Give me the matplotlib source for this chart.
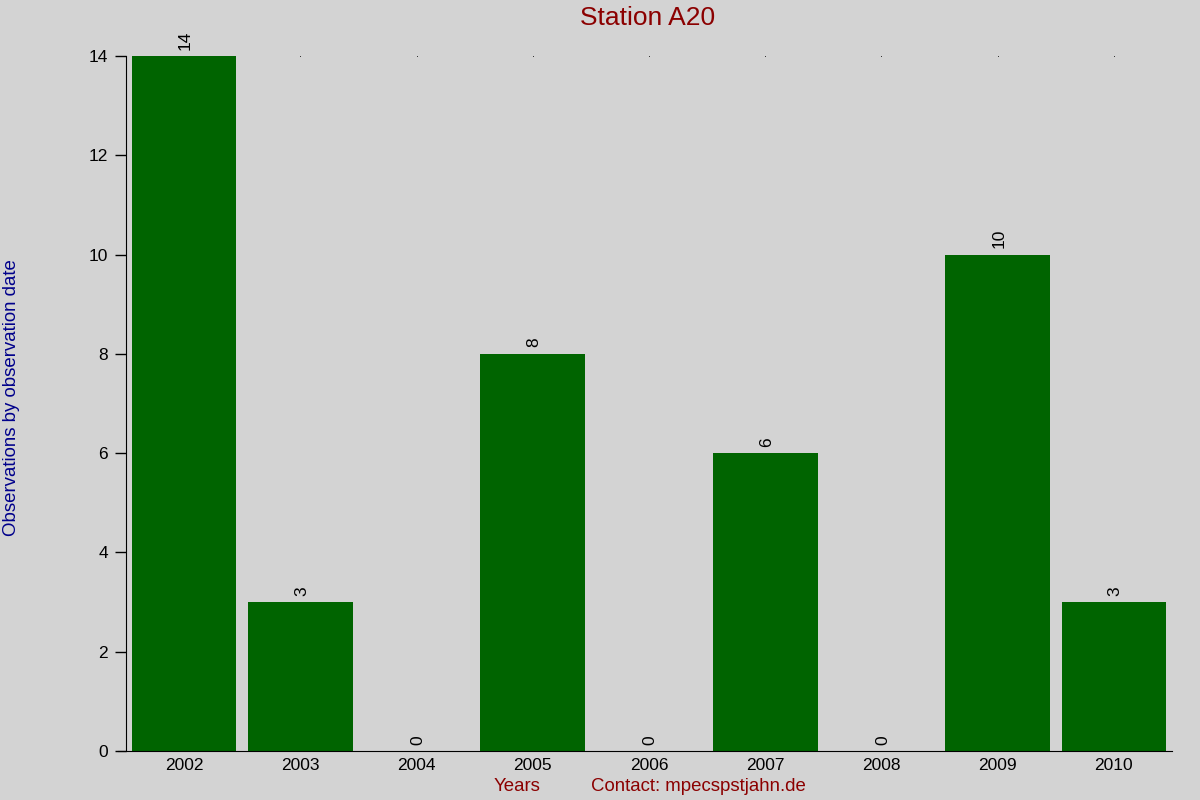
import matplotlib
matplotlib.use("Agg")
import matplotlib.pyplot as plt
import numpy as np

years = ["2002", "2003", "2004", "2005", "2006", "2007", "2008", "2009", "2010"]
counts = [14, 3, 0, 8, 0, 6, 0, 10, 3]
yticks = [0, 2, 4, 6, 8, 10, 12, 14]

plt.rcParams['font.family'] = ['Liberation Sans', 'DejaVu Sans']

fig = plt.figure(figsize=(12, 8), dpi=100, facecolor='#d3d3d3')
ax = fig.add_axes([0.105, 0.06125, 0.8717, 0.86875])
ax.set_facecolor('#d3d3d3')

x = np.arange(len(years))
ax.bar(x, counts, width=0.9, color='#006400')
for xi, v in zip(x, counts):
    ax.text(xi + 0.01, v + 0.13, str(v), rotation=90, ha='center', va='bottom', fontsize=12.5, color='black')

ax.set_xlim(-0.5, 8.5)
ax.set_ylim(0, 14)
ax.set_yticks(yticks)
ax.set_xticks(x, years)
ax.tick_params(axis='x', length=0, pad=5, labelsize=12.5)
ax.tick_params(axis='y', length=8, width=1, labelsize=12.5, pad=5)
for s in ['top', 'right']:
    ax.spines[s].set_visible(False)
ax.spines['bottom'].set_bounds(-0.57, 8.5)
ax.spines['bottom'].set_position(('data', 0))

# tiny top marks at bar centers
ax.plot(x[1:], [14] * (len(x) - 1), linestyle='none', marker='s', markersize=0.5, markeredgewidth=0,
        color='black', clip_on=False)

fig.text(0.54, 0.977, "Station A20", ha='center', va='center', fontsize=19, color='#8b0000')
fig.text(0.431, 0.017, "Years", ha='center', va='center', fontsize=13.4, color='#8b0000')
fig.text(0.582, 0.017, "Contact: mpecspstjahn.de", ha='center', va='center', fontsize=13.4, color='#8b0000')
fig.text(0.0095, 0.5025, "Observations by observation date", rotation=90, ha='center', va='center', fontsize=13.4, color='#00008b')

fig.savefig("out.png", dpi=100, facecolor=fig.get_facecolor())
